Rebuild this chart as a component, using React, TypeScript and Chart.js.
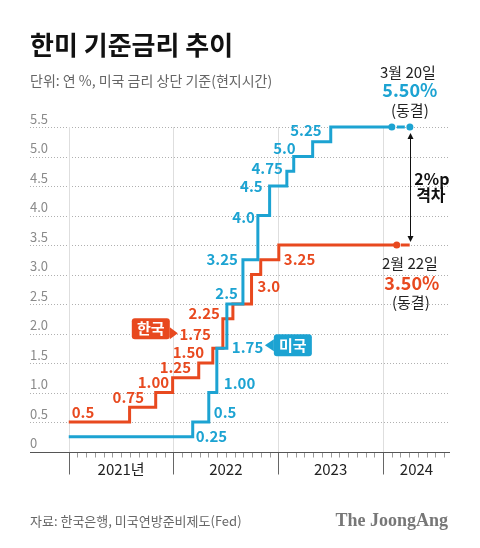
import React, { useEffect, useRef } from 'react';
import { Chart, registerables } from 'chart.js';

Chart.register(...registerables);

// ---------------- data ----------------
const usDates = [
  '2021-01-01', '2022-03-09', '2022-05-04', '2022-06-01', '2022-07-06', '2022-08-31',
  '2022-10-22', '2022-12-02', '2023-01-31', '2023-02-24', '2023-05-01', '2023-07-03',
  '2024-02-01', '2024-04-04',
];
const usRates = [0.25, 0.5, 1.0, 1.75, 2.5, 3.25, 4.0, 4.5, 4.75, 5.0, 5.25, 5.5, 5.5, 5.5];
const usLabels = ['0.25', '0.5', '1.00', '1.75', '2.5', '3.25', '4.0', '4.5', '4.75', '5.0', '5.25'];

const krDates = [
  '2021-01-01', '2021-08-01', '2021-10-31', '2021-12-29', '2022-03-30', '2022-05-18',
  '2022-06-22', '2022-07-27', '2022-09-30', '2022-11-01', '2023-01-03', '2024-02-18',
  '2024-04-04',
];
const krRates = [0.5, 0.75, 1.0, 1.25, 1.5, 1.75, 2.25, 2.5, 3.0, 3.25, 3.5, 3.5, 3.5];
const krLabels = ['0.5', '0.75', '1.00', '1.25', '1.50', '1.75', '2.25', '', '3.0', '3.25'];

const yTickValues = [0, 0.5, 1.0, 1.5, 2.0, 2.5, 3.0, 3.5, 4.0, 4.5, 5.0, 5.5];
const yTickLabels = ['0', '0.5', '1.0', '1.5', '2.0', '2.5', '3.0', '3.5', '4.0', '4.5', '5.0', '5.5'];
const years = [2021, 2022, 2023, 2024];
const yearLabels = ['2021년', '2022', '2023', '2024'];

const usNote = ['3월 20일', '5.50%', '(동결)'];
const krNote = ['2월 22일', '3.50%', '(동결)'];
const gapNote = ['2%p', '격차'];

// ---------------- layout / style ----------------
const X_MIN = 2020.63;
const X_MAX = 2024.64;
const BLUE = '#1ca3d2';
const RED = '#e8491f';
const FONT = '"Noto Sans CJK KR", "Noto Sans", sans-serif';

type Pos = { at: 'start' | 'end'; dx: number; dy: number; align: CanvasTextAlign };
const usLabelPos: Pos[] = [
  { at: 'end', dx: 3, dy: 0, align: 'left' },
  { at: 'end', dx: 5, dy: -10, align: 'left' },
  { at: 'end', dx: 7, dy: -9, align: 'left' },
  { at: 'end', dx: 5, dy: -1, align: 'left' },
  { at: 'end', dx: -5, dy: -11, align: 'right' },
  { at: 'start', dx: -5, dy: 0, align: 'right' },
  { at: 'start', dx: -3, dy: 1.5, align: 'right' },
  { at: 'start', dx: -7, dy: 0, align: 'right' },
  { at: 'start', dx: -4, dy: -3, align: 'right' },
  { at: 'start', dx: 2, dy: -8, align: 'right' },
  { at: 'start', dx: 9, dy: -11, align: 'right' },
];
const krLabelPos: Pos[] = [
  { at: 'start', dx: 3, dy: -10, align: 'left' },
  { at: 'start', dx: -17, dy: -10, align: 'left' },
  { at: 'start', dx: -18, dy: -10, align: 'left' },
  { at: 'start', dx: -13, dy: -10, align: 'left' },
  { at: 'start', dx: -26, dy: -11, align: 'left' },
  { at: 'start', dx: -2, dy: -14, align: 'right' },
  { at: 'start', dx: -3, dy: -5.5, align: 'right' },
  { at: 'start', dx: 0, dy: 0, align: 'left' },
  { at: 'start', dx: 6, dy: 12, align: 'left' },
  { at: 'end', dx: 5, dy: 0, align: 'left' },
];

function toYear(d: string): number {
  const [y, m, dd] = d.split('-').map(Number);
  const t = Date.UTC(y, m - 1, dd);
  const s = Date.UTC(y, 0, 1);
  const e = Date.UTC(y + 1, 0, 1);
  return y + (t - s) / (e - s);
}

const overlayPlugin = {
  id: 'overlay',
  beforeDatasetsDraw(chart: any) {
    const { ctx, chartArea, scales } = chart;
    const xs = scales.x;
    const ys = scales.y;
    const y0 = Math.round(ys.getPixelForValue(0)) + 0.5;
    ctx.save();
    // horizontal dotted grid
    ctx.strokeStyle = '#b0b0b0';
    ctx.lineWidth = 1;
    ctx.setLineDash([1, 2]);
    yTickValues.forEach((v) => {
      if (v === 0) return;
      const y = Math.round(ys.getPixelForValue(v)) + 0.5;
      ctx.beginPath();
      ctx.moveTo(chartArea.left, y);
      ctx.lineTo(chartArea.right, y);
      ctx.stroke();
    });
    ctx.setLineDash([]);
    // vertical year grid
    ctx.strokeStyle = '#dedede';
    years.forEach((yr) => {
      const x = Math.round(xs.getPixelForValue(yr)) + 0.5;
      ctx.beginPath();
      ctx.moveTo(x, chartArea.top);
      ctx.lineTo(x, y0);
      ctx.stroke();
    });
    // month minor ticks
    ctx.strokeStyle = '#9a9a9a';
    years.forEach((yr) => {
      for (let m = 1; m < 12; m++) {
        const v = yr + m / 12;
        if (v > X_MAX - 0.02) break;
        const x = Math.round(xs.getPixelForValue(v)) + 0.5;
        ctx.beginPath();
        ctx.moveTo(x, y0);
        ctx.lineTo(x, y0 + 5);
        ctx.stroke();
      }
    });
    // year ticks
    ctx.strokeStyle = '#666';
    years.forEach((yr) => {
      const x = Math.round(xs.getPixelForValue(yr)) + 0.5;
      ctx.beginPath();
      ctx.moveTo(x, y0);
      ctx.lineTo(x, y0 + 22);
      ctx.stroke();
    });
    // x axis line
    ctx.strokeStyle = '#555';
    ctx.beginPath();
    ctx.moveTo(chartArea.left, y0);
    ctx.lineTo(chartArea.right, y0);
    ctx.stroke();
    // y labels
    ctx.fillStyle = '#8a8a8a';
    ctx.font = `13px ${FONT}`;
    ctx.textAlign = 'left';
    ctx.textBaseline = 'middle';
    yTickValues.forEach((v, i) => {
      ctx.fillText(yTickLabels[i], chartArea.left, ys.getPixelForValue(v) - 8);
    });
    // year labels
    ctx.fillStyle = '#222';
    ctx.font = `15px ${FONT}`;
    ctx.textAlign = 'center';
    years.forEach((yr, i) => {
      const a = xs.getPixelForValue(yr);
      const b = xs.getPixelForValue(Math.min(yr + 1, X_MAX));
      ctx.fillText(yearLabels[i], (a + b) / 2, y0 + 17);
    });
    ctx.restore();
  },
  afterDatasetsDraw(chart: any) {
    const { ctx } = chart;
    const us = chart.getDatasetMeta(0).data;
    const kr = chart.getDatasetMeta(1).data;
    ctx.save();
    ctx.textBaseline = 'middle';
    ctx.font = `bold 15px ${FONT}`;
    const put = (pts: any[], labels: string[], pos: Pos[], color: string) => {
      ctx.fillStyle = color;
      labels.forEach((t, i) => {
        if (!t) return;
        const p = pos[i];
        const ax = p.at === 'end' ? pts[i + 1].x : pts[i].x;
        ctx.textAlign = p.align;
        ctx.fillText(t, ax + p.dx, pts[i].y + p.dy);
      });
    };
    put(us, usLabels, usLabelPos, BLUE);
    put(kr, krLabels, krLabelPos, RED);

    // tag boxes
    const tag = (x: number, y: number, w: number, h: number, tri: number[], text: string, color: string) => {
      ctx.fillStyle = color;
      ctx.beginPath();
      ctx.roundRect(x, y, w, h, 3);
      ctx.fill();
      ctx.beginPath();
      ctx.moveTo(tri[0], tri[1]);
      ctx.lineTo(tri[2], tri[3]);
      ctx.lineTo(tri[4], tri[5]);
      ctx.closePath();
      ctx.fill();
      ctx.fillStyle = '#fff';
      ctx.textAlign = 'center';
      ctx.font = `bold 15px ${FONT}`;
      ctx.fillText(text, x + w / 2, y + h / 2);
    };
    const k = kr[5];
    tag(k.x - 81, k.y - 30, 38, 21, [k.x - 43, k.y - 21, k.x - 35, k.y - 15, k.x - 43, k.y - 9], '한국', RED);
    const ux = us[4].x;
    const uy = us[3].y;
    tag(ux + 47, uy - 14, 38, 22, [ux + 47, uy - 9, ux + 38, uy - 3, ux + 47, uy + 3], '미국', BLUE);

    // end notes
    const ue = us[us.length - 1];
    const ke = kr[kr.length - 1];
    ctx.textAlign = 'center';
    ctx.fillStyle = '#222';
    ctx.font = `15px ${FONT}`;
    ctx.fillText(usNote[0], ue.x - 2, ue.y - 55);
    ctx.fillStyle = BLUE;
    ctx.font = `bold 18px ${FONT}`;
    ctx.fillText(usNote[1], ue.x, ue.y - 37);
    ctx.fillStyle = '#222';
    ctx.font = `15px ${FONT}`;
    ctx.fillText(usNote[2], ue.x, ue.y - 17);

    ctx.fillText(krNote[0], ke.x, ke.y + 18);
    ctx.fillStyle = RED;
    ctx.font = `bold 18px ${FONT}`;
    ctx.fillText(krNote[1], ke.x + 2, ke.y + 38);
    ctx.fillStyle = '#222';
    ctx.font = `15px ${FONT}`;
    ctx.fillText(krNote[2], ke.x + 1, ke.y + 57);

    // gap arrow
    const ax = Math.round(ue.x) + 0.5;
    const top = ue.y + 6;
    const bot = ke.y - 3;
    ctx.strokeStyle = '#111';
    ctx.fillStyle = '#111';
    ctx.lineWidth = 1;
    ctx.beginPath();
    ctx.moveTo(ax, top + 3);
    ctx.lineTo(ax, bot - 3);
    ctx.stroke();
    ctx.beginPath();
    ctx.moveTo(ax, top);
    ctx.lineTo(ax - 3, top + 6);
    ctx.lineTo(ax + 3, top + 6);
    ctx.closePath();
    ctx.fill();
    ctx.beginPath();
    ctx.moveTo(ax, bot);
    ctx.lineTo(ax - 3, bot - 6);
    ctx.lineTo(ax + 3, bot - 6);
    ctx.closePath();
    ctx.fill();
    const mid = (ue.y + ke.y) / 2;
    ctx.font = `bold 16px ${FONT}`;
    ctx.fillText(gapNote[0], ue.x + 22, mid - 7);
    ctx.fillText(gapNote[1], ue.x + 21, mid + 9);
    ctx.restore();
  },
};

export default function App() {
  const ref = useRef<HTMLCanvasElement | null>(null);

  useEffect(() => {
    if (!ref.current) return;
    const usData = usDates.map((d, i) => ({ x: toYear(d), y: usRates[i] }));
    const krData = krDates.map((d, i) => ({ x: toYear(d), y: krRates[i] }));
    const usLast = usData.length - 1;
    const krLast = krData.length - 1;
    const chart = new Chart(ref.current, {
      type: 'line',
      data: {
        datasets: [
          {
            label: '미국',
            data: usData,
            borderColor: BLUE,
            backgroundColor: BLUE,
            borderWidth: 3,
            stepped: true,
            clip: false,
            pointRadius: usData.map((_, i) => (i >= usLast - 1 ? 3.5 : 0)),
            pointBorderWidth: 0,
            segment: {
              borderDash: (c: any) => (c.p1DataIndex === usLast ? [0, 5, 8, 5] : undefined),
            },
          },
          {
            label: '한국',
            data: krData,
            borderColor: RED,
            backgroundColor: RED,
            borderWidth: 3,
            stepped: true,
            clip: false,
            pointRadius: krData.map((_, i) => (i === krLast - 1 ? 3.5 : 0)),
            pointBorderWidth: 0,
            segment: {
              borderDash: (c: any) => (c.p1DataIndex === krLast ? [0, 4, 9, 0] : undefined),
            },
          },
        ],
      },
      options: {
        animation: false,
        responsive: false,
        devicePixelRatio: 1,
        layout: { padding: { left: 30, right: 30, top: 127, bottom: 96.5 } },
        scales: {
          x: { type: 'linear', min: X_MIN, max: X_MAX, display: false },
          y: { type: 'linear', min: 0, max: 5.5, display: false },
        },
        plugins: {
          legend: { display: false },
          tooltip: { enabled: false },
        },
        events: [],
      },
      plugins: [overlayPlugin],
    });
    return () => chart.destroy();
  }, []);

  const base: React.CSSProperties = {
    position: 'absolute',
    whiteSpace: 'nowrap',
    fontFamily: FONT,
    margin: 0,
  };

  return (
    <div
      style={{
        position: 'absolute',
        left: 0,
        top: 0,
        width: 480,
        height: 548,
        background: '#fff',
        overflow: 'hidden',
      }}
    >
      <canvas
        ref={ref}
        width={480}
        height={548}
        style={{ position: 'absolute', left: 0, top: 0, width: 480, height: 548, display: 'block' }}
      />
      <div style={{ ...base, left: 30, top: 31, fontSize: 26, lineHeight: '26px', fontWeight: 700, color: '#111' }}>
        한미 기준금리 추이
      </div>
      <div style={{ ...base, left: 30, top: 73, fontSize: 14, lineHeight: '14px', color: '#666' }}>
        단위: 연 %, 미국 금리 상단 기준(현지시간)
      </div>
      <div style={{ ...base, left: 30, top: 514, fontSize: 13, lineHeight: '13px', color: '#666' }}>
        자료: 한국은행, 미국연방준비제도(Fed)
      </div>
      <div
        style={{
          ...base,
          right: 32,
          top: 511,
          fontSize: 18,
          lineHeight: '18px',
          fontWeight: 700,
          color: '#777',
          fontFamily: '"Liberation Serif", "DejaVu Serif", serif',
        }}
      >
        The JoongAng
      </div>
    </div>
  );
}
